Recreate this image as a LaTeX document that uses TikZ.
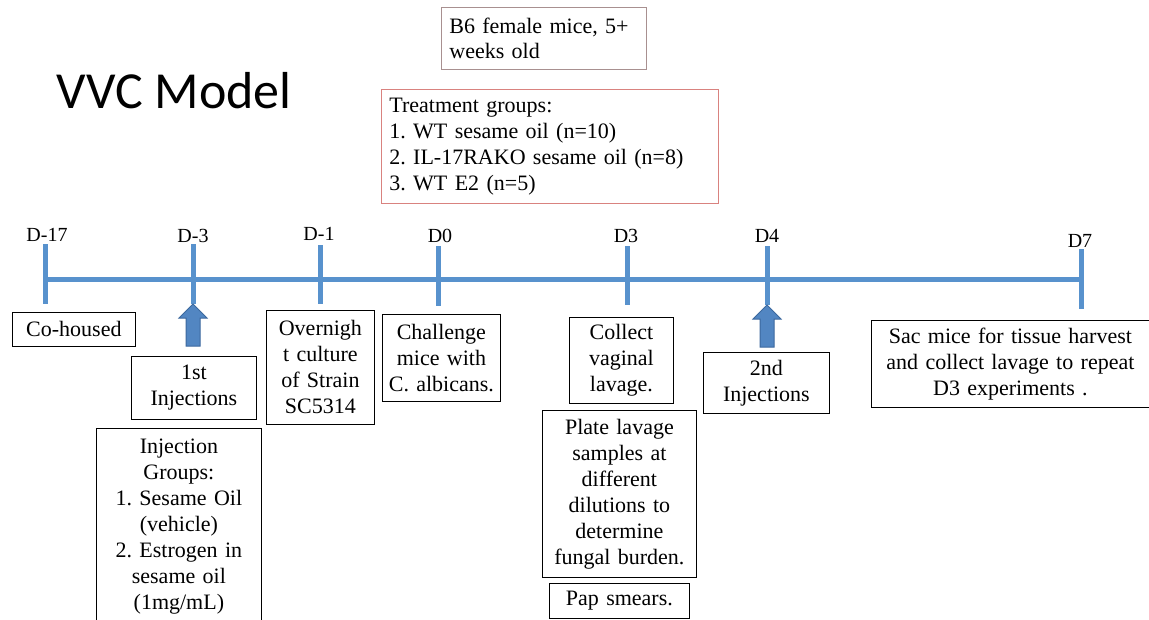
\documentclass[tikz,border=0pt]{standalone}
\usepackage{fontspec}
\setmainfont{Liberation Serif}
\newfontfamily\titlefont{Carlito}
\frenchspacing
\definecolor{tlblue}{RGB}{88,146,205}
\definecolor{arfill}{RGB}{82,134,194}
\definecolor{ardraw}{RGB}{60,104,158}
\definecolor{bsix}{RGB}{168,144,144}
\definecolor{treat}{RGB}{217,130,127}
\newcommand\bodyf{\fontsize{22}{26}\selectfont}
\newcommand\labf{\fontsize{20}{24}\selectfont}
\tikzset{
  box/.style={draw=black, line width=0.8pt, inner sep=0pt, align=center, font=\bodyf, anchor=north west},
  daylab/.style={font=\labf, inner sep=0pt},
  tline/.style={draw=tlblue, line width=5pt},
  blockarrow/.style={fill=arfill, draw=ardraw, line width=1pt, line join=miter},
}
\begin{document}
\begin{tikzpicture}[x=1pt,y=-1pt]
\clip (0,0) rectangle (1149,619);
\fill[white] (0,0) rectangle (1149,619);

% title
\node[font=\titlefont\fontsize{52}{60}\selectfont, inner sep=0pt] (title) at (174,91) {VVC Model};

% top boxes
\node[box, draw=bsix, align=left, font=\fontsize{22}{25}\selectfont, minimum width=205, minimum height=62, text width=189] (bsix) at (441,7) {B6 female mice, 5+\\weeks old};
\node[box, draw=treat, align=left, minimum width=337, minimum height=114, text width=321] (treat) at (381,89) {Treatment groups:\\1. WT sesame oil (n=10)\\2. IL-17RAKO sesame oil (n=8)\\3. WT E2 (n=5)};

% timeline
\coordinate (tlL) at (45,279);
\coordinate (tlR) at (1081,279);
\draw[tline] (tlL) -- (tlR);

\coordinate (k17t) at (45,244);  \coordinate (k17b) at (45,304);
\coordinate (k3t) at (193,244);  \coordinate (k3b) at (193,304);
\coordinate (k1t) at (320,245);  \coordinate (k1b) at (320,304);
\coordinate (k0t) at (438,246);  \coordinate (k0b) at (438,306);
\coordinate (p3t) at (627,246);  \coordinate (p3b) at (627,305);
\coordinate (p4t) at (767,246);  \coordinate (p4b) at (767,305);
\coordinate (p7t) at (1081,249); \coordinate (p7b) at (1081,309);
\foreach \a/\b in {k17t/k17b,k3t/k3b,k1t/k1b,k0t/k0b,p3t/p3b,p4t/p4b,p7t/p7b}
  \draw[tline] (\a) -- (\b);

% day labels
\node[daylab] (d17) at (47,235) {D-17};
\node[daylab] (d3m) at (193,236) {D-3};
\node[daylab] (d1m) at (319,234) {D-1};
\node[daylab] (d0) at (440,236) {D0};
\node[daylab] (d3) at (626,236) {D3};
\node[daylab] (d4) at (767,236) {D4};
\node[daylab] (d7) at (1080,241) {D7};

% block arrows
\draw[blockarrow] (k3b) -- ++(14,14) -- ++(-7,0) -- ++(0,28) -- ++(-14,0) -- ++(0,-28) -- ++(-7,0) -- cycle;
\draw[blockarrow] (p4b) -- ++(14,14) -- ++(-7,0) -- ++(0,28) -- ++(-14,0) -- ++(0,-28) -- ++(-7,0) -- cycle;

% event boxes
\node[box, minimum width=123, minimum height=34, text width=119] (cohoused) at (12,312) {Co-housed};
\node[box, minimum width=125, minimum height=63, text width=121] (inj1) at (131,356) {1st\\Injections};
\node[box, minimum width=165, minimum height=196, text width=161] (injgroups) at (96,428) {Injection\\Groups:\\1. Sesame Oil\\(vehicle)\\2. Estrogen in\\sesame oil\\(1mg/mL)};
\node[box, minimum width=108, minimum height=114, text width=104] (overnight) at (266,310) {Overnigh\\t culture\\of Strain\\SC5314};
\node[box, minimum width=118, minimum height=87, text width=114] (challenge) at (382,314) {Challenge\\mice with\\C. albicans.};
\node[box, minimum width=104, minimum height=86, text width=100] (collect) at (569,317) {Collect\\vaginal\\lavage.};
\node[box, minimum width=154, minimum height=167, text width=150] (plate) at (542,410) {Plate lavage\\samples at\\different\\dilutions to\\determine\\fungal burden.};
\node[box, minimum width=140, minimum height=35, text width=136] (pap) at (549,583) {Pap smears.};
\node[box, minimum width=126, minimum height=61, text width=122] (inj2) at (703,352) {2nd\\Injections};
\node[box, minimum width=278, minimum height=87, text width=274] (sac) at (871,320) {Sac mice for tissue harvest\\and collect lavage to repeat\\D3 experiments .};
\end{tikzpicture}
\end{document}
